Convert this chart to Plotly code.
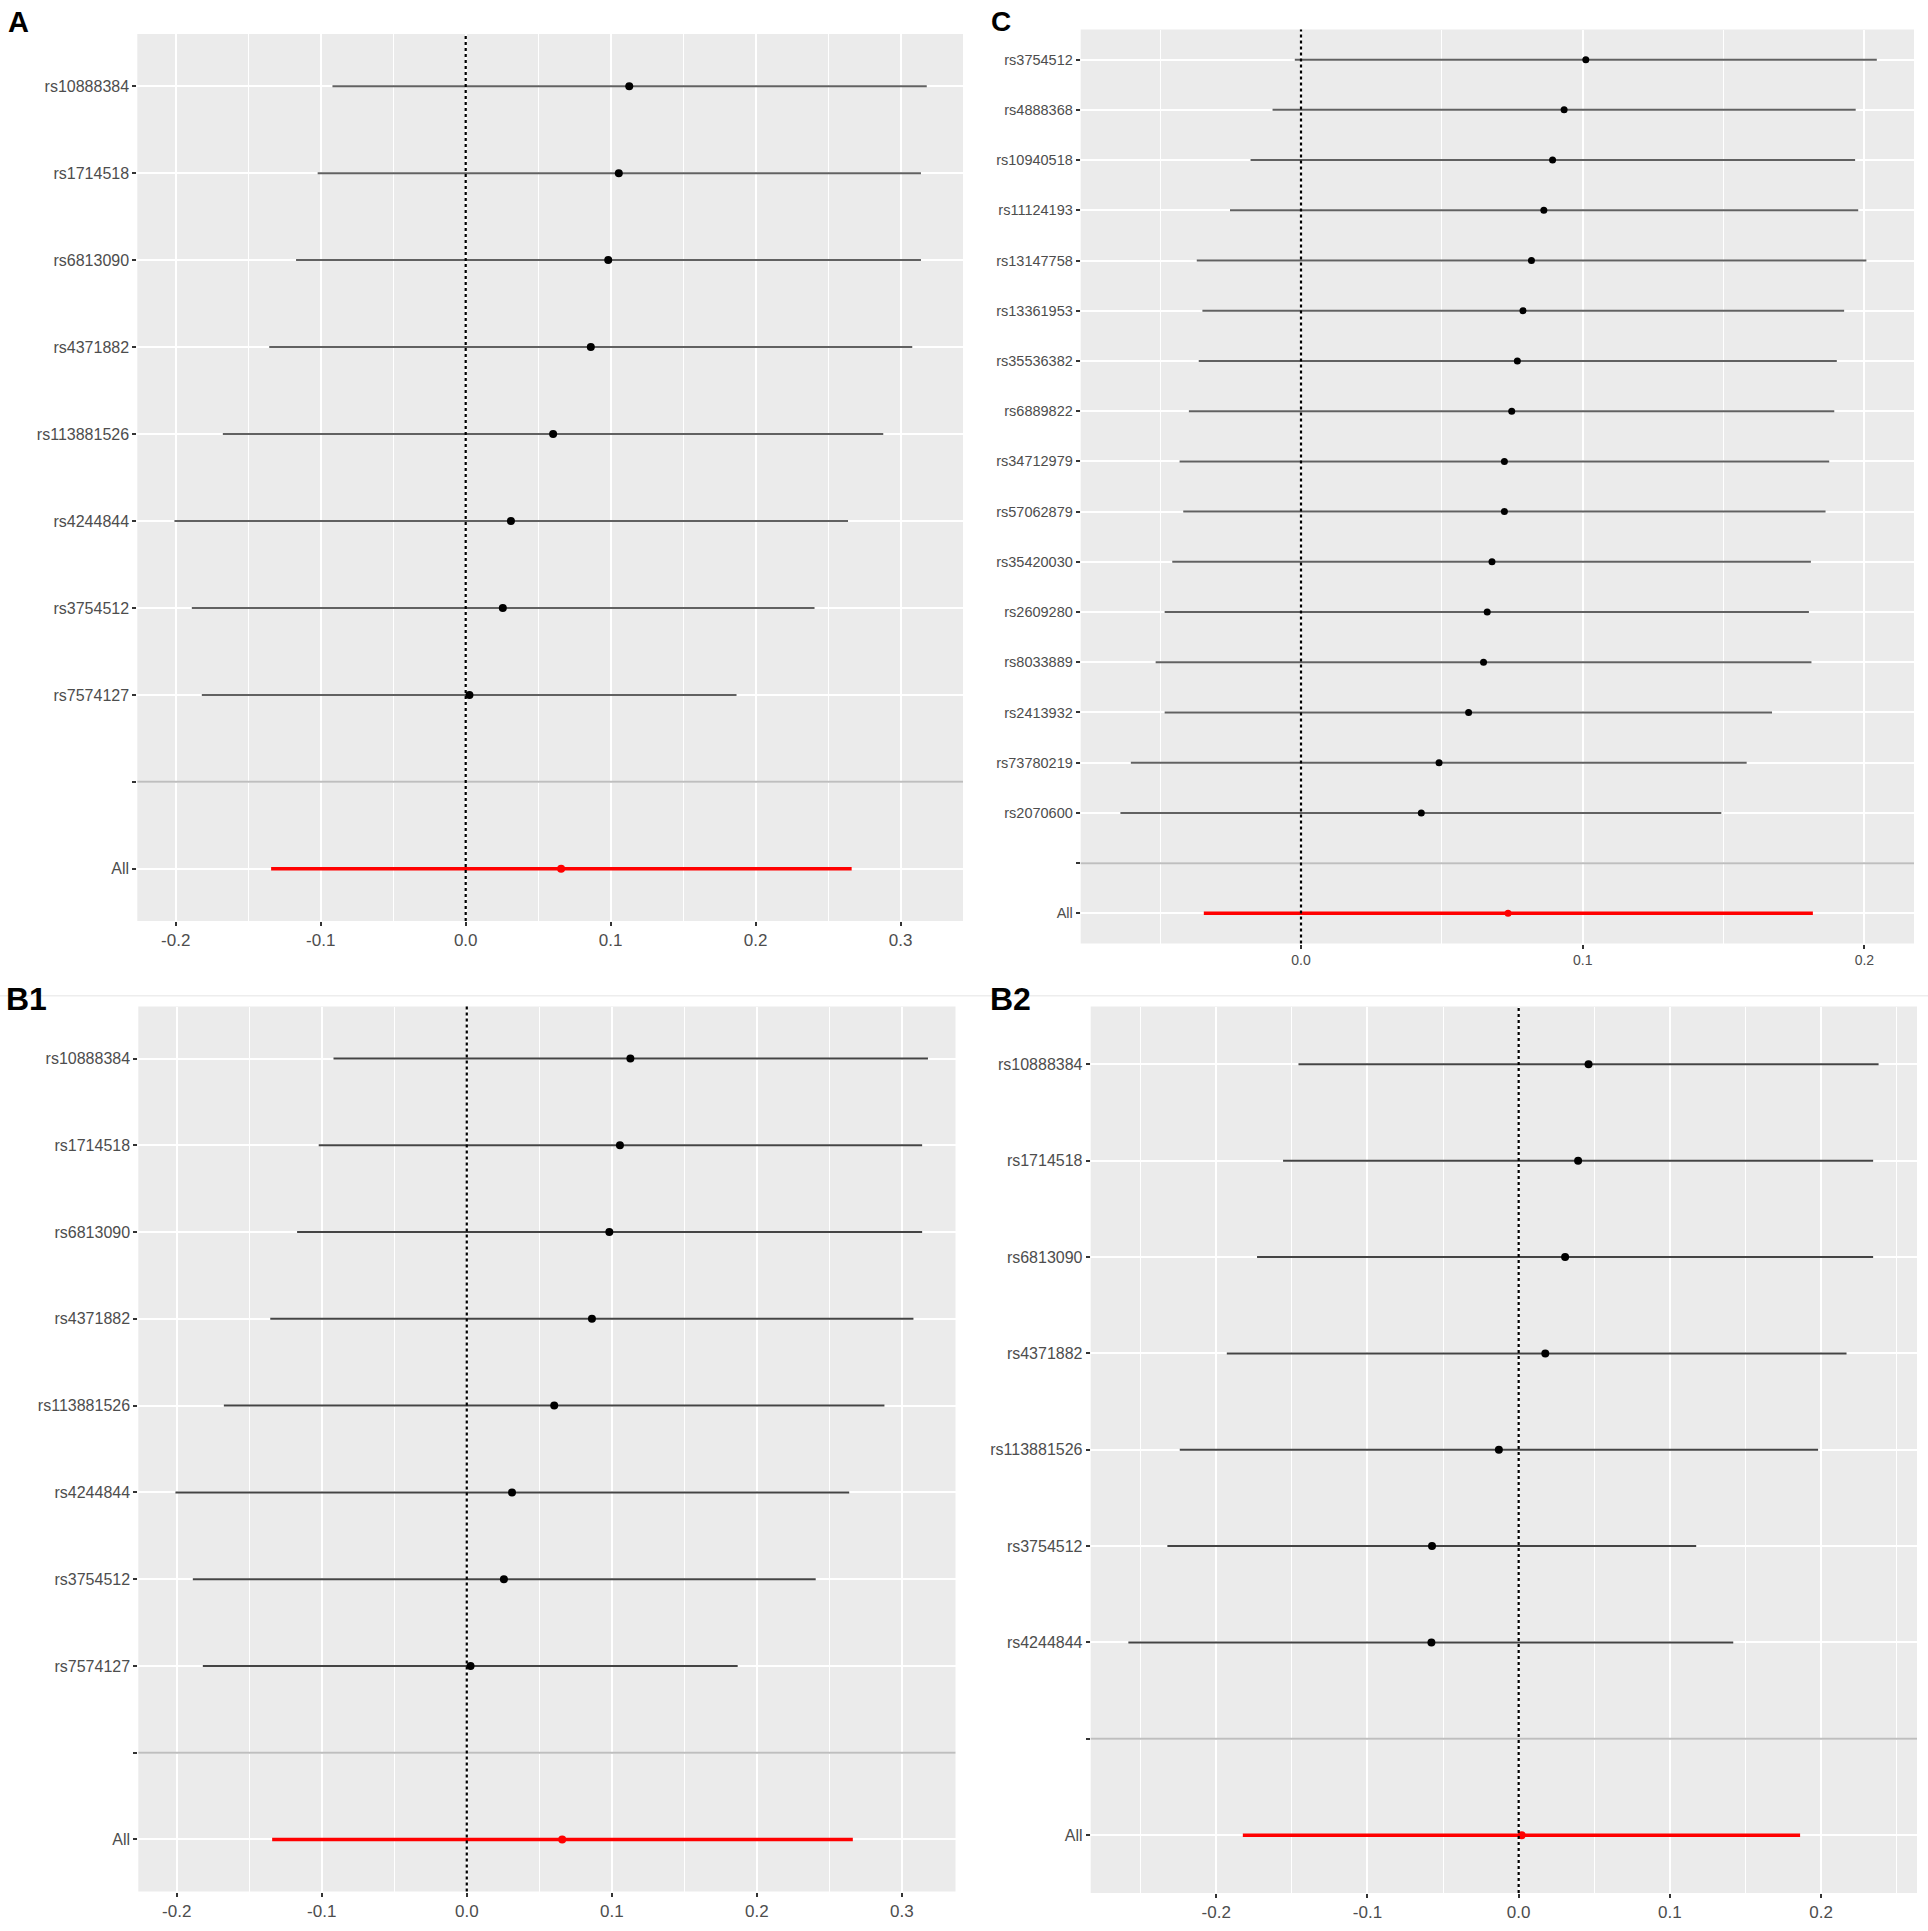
import plotly.graph_objects as go
from plotly.subplots import make_subplots

# ---- panel A (and B1, which shows the same estimates) ----
snps_a = ["rs10888384", "rs1714518", "rs6813090", "rs4371882",
          "rs113881526", "rs4244844", "rs3754512", "rs7574127"]
b_a = [0.1128, 0.1056, 0.0983, 0.0863, 0.0603, 0.0312, 0.0256, 0.0026]
lo_a = [-0.0919, -0.1021, -0.1170, -0.1355, -0.1675, -0.2009, -0.1889, -0.1820]
hi_a = [0.3180, 0.3140, 0.3140, 0.3080, 0.2880, 0.2637, 0.2406, 0.1868]
all_a = [0.0658, -0.1342, 0.2662]  # estimate, lower, upper

# ---- panel C ----
snps_c = ["rs3754512", "rs4888368", "rs10940518", "rs11124193", "rs13147758",
          "rs13361953", "rs35536382", "rs6889822", "rs34712979", "rs57062879",
          "rs35420030", "rs2609280", "rs8033889", "rs2413932", "rs73780219",
          "rs2070600"]
b_c = [0.1011, 0.0934, 0.0893, 0.0862, 0.0818, 0.0788, 0.0768, 0.0748,
       0.0722, 0.0722, 0.0678, 0.0661, 0.0648, 0.0595, 0.0490, 0.0427]
lo_c = [-0.0022, -0.0101, -0.0179, -0.0252, -0.0370, -0.0350, -0.0363, -0.0398,
        -0.0431, -0.0418, -0.0457, -0.0484, -0.0516, -0.0484, -0.0604, -0.0641]
hi_c = [0.2044, 0.1969, 0.1967, 0.1978, 0.2007, 0.1928, 0.1902, 0.1893,
        0.1875, 0.1862, 0.1810, 0.1803, 0.1812, 0.1672, 0.1582, 0.1492]
all_c = [0.0735, -0.0345, 0.1817]

# ---- panel B2 ----
snps_b2 = ["rs10888384", "rs1714518", "rs6813090", "rs4371882",
           "rs113881526", "rs3754512", "rs4244844"]
b_b2 = [0.0462, 0.0393, 0.0307, 0.0176, -0.0131, -0.0573, -0.0577]
lo_b2 = [-0.1456, -0.1558, -0.1730, -0.1930, -0.2241, -0.2323, -0.2581]
hi_b2 = [0.2380, 0.2344, 0.2344, 0.2168, 0.1980, 0.1174, 0.1419]
all_b2 = [0.0020, -0.1824, 0.1861]

x_ticks_ab = [-0.2, -0.1, 0.0, 0.1, 0.2, 0.3]
x_ticks_c = [0.0, 0.1, 0.2]

W, H = 1928, 1931
FONT = "Liberation Sans, Arial, sans-serif"


def px_x(v):
    return v / W


def px_y(v):
    return 1 - v / H


fig = make_subplots(rows=2, cols=2)


def add_panel(row, col, snps, b, lo, hi, all_vals, xrange, ticks, xdom, ydom,
              ysize, xsize, bar_color, msize):
    n = (row - 1) * 2 + col
    sfx = "" if n == 1 else str(n)
    cats = ["All", " "] + snps[::-1]

    # separator between SNPs and the combined estimate
    fig.add_shape(type="line", xref="x" + sfx + " domain", x0=0, x1=1,
                  yref="y" + sfx, y0=cats.index(" "), y1=cats.index(" "),
                  line=dict(color="#BEBEBE", width=2), layer="above")
    # null line
    fig.add_shape(type="line", xref="x" + sfx, x0=0, x1=0,
                  yref="y" + sfx + " domain", y0=0, y1=1,
                  line=dict(color="black", width=2.2, dash="dot"),
                  layer="above")

    fig.add_trace(go.Scatter(
        x=b, y=snps, mode="markers",
        marker=dict(color="black", size=msize),
        error_x=dict(type="data", symmetric=False,
                     array=[h - e for h, e in zip(hi, b)],
                     arrayminus=[e - l for e, l in zip(b, lo)],
                     width=0, thickness=2, color=bar_color),
        showlegend=False), row=row, col=col)
    fig.add_trace(go.Scatter(
        x=[all_vals[0]], y=["All"], mode="markers",
        marker=dict(color="red", size=msize),
        error_x=dict(type="data", symmetric=False,
                     array=[all_vals[2] - all_vals[0]],
                     arrayminus=[all_vals[0] - all_vals[1]],
                     width=0, thickness=3.5, color="red"),
        showlegend=False), row=row, col=col)

    fig.update_xaxes(range=xrange, domain=[px_x(xdom[0]), px_x(xdom[1])],
                     tickvals=ticks, ticktext=["%.1f" % t for t in ticks],
                     showgrid=True, gridcolor="white", gridwidth=2,
                     minor=dict(dtick=0.05, tick0=0, showgrid=True,
                                gridcolor="white", gridwidth=1),
                     zeroline=False, showline=False,
                     ticks="outside", ticklen=4, tickwidth=1.5,
                     tickcolor="#333333",
                     tickfont=dict(family=FONT, size=xsize, color="#4D4D4D"),
                     row=row, col=col)
    fig.update_yaxes(type="category", categoryorder="array",
                     categoryarray=cats,
                     range=[-0.6, len(cats) - 0.4],
                     domain=[px_y(ydom[1]), px_y(ydom[0])],
                     showgrid=True, gridcolor="white", gridwidth=2,
                     zeroline=False, showline=False,
                     ticks="outside", ticklen=4, tickwidth=1.5,
                     tickcolor="#333333",
                     tickfont=dict(family=FONT, size=ysize, color="#4D4D4D"),
                     row=row, col=col)


add_panel(1, 1, snps_a, b_a, lo_a, hi_a, all_a, [-0.2265, 0.343], x_ticks_ab,
          (137.3, 963), (34, 921), 16, 17, "#616161", 8)
add_panel(1, 2, snps_c, b_c, lo_c, hi_c, all_c, [-0.0782, 0.2176], x_ticks_c,
          (1080.7, 1914), (29.5, 943.5), 14.5, 14, "#616161", 7)
add_panel(2, 1, snps_a, b_a, lo_a, hi_a, all_a, [-0.2265, 0.337], x_ticks_ab,
          (138.3, 955.5), (1006.5, 1891.5), 16, 17, "#444444", 8)
add_panel(2, 2, snps_b2, b_b2, lo_b2, hi_b2, all_b2, [-0.283, 0.2634],
          x_ticks_ab[:5], (1090.7, 1917), (1006.5, 1893), 16, 17,
          "#444444", 8)

# panel letters
for label, x0, y0, size in [("A", 6, 4, 29), ("C", 989, 4, 28),
                            ("B1", 4, 979, 32), ("B2", 988, 979, 32)]:
    fig.add_annotation(text="<b>" + label + "</b>", xref="paper", yref="paper",
                       x=px_x(x0), y=px_y(y0), xanchor="left", yanchor="top",
                       showarrow=False,
                       font=dict(family=FONT, size=size, color="black"))

# faint rule between top and bottom rows
fig.add_shape(type="line", xref="paper", yref="paper", x0=0, x1=1,
              y0=px_y(995.7), y1=px_y(995.7),
              line=dict(color="#EDEDED", width=1.5))

fig.update_layout(width=W, height=H, margin=dict(l=0, r=0, t=0, b=0),
                  paper_bgcolor="white", plot_bgcolor="#EBEBEB",
                  font=dict(family=FONT))

fig.write_html("out.html", config={"displayModeBar": False},
               post_script="document.body.style.margin='0';")
